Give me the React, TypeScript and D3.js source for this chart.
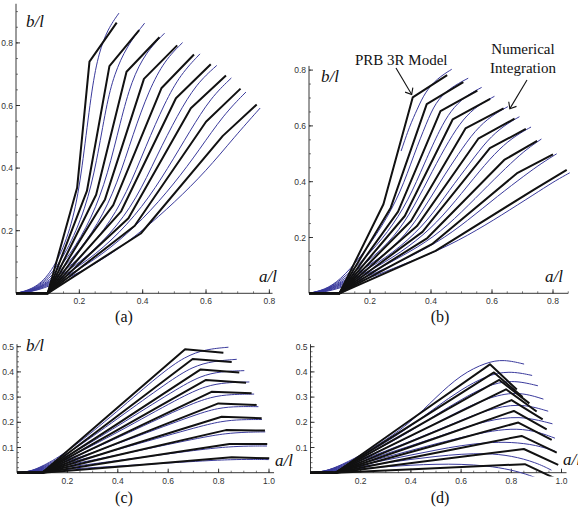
import * as d3 from "d3";

type Pt = [number, number];

// PRB 3R model (black polylines)
const prbA: Pt[][] = [
  [[0, 0], [0.1, 0], [0.193, 0.337], [0.232, 0.74], [0.318, 0.865]],
  [[0, 0], [0.1, 0], [0.224, 0.327], [0.295, 0.726], [0.389, 0.841]],
  [[0, 0], [0.1, 0], [0.253, 0.315], [0.349, 0.708], [0.453, 0.818]],
  [[0, 0], [0.1, 0], [0.281, 0.3], [0.404, 0.685], [0.509, 0.792]],
  [[0, 0], [0.1, 0], [0.307, 0.282], [0.459, 0.655], [0.562, 0.763]],
  [[0, 0], [0.1, 0], [0.332, 0.262], [0.505, 0.623], [0.615, 0.732]],
  [[0, 0], [0.1, 0], [0.355, 0.24], [0.552, 0.591], [0.663, 0.696]],
  [[0, 0], [0.1, 0], [0.375, 0.216], [0.6, 0.548], [0.709, 0.654]],
  [[0, 0], [0.1, 0], [0.394, 0.191], [0.653, 0.503], [0.76, 0.603]],
];
// numerical integration (blue curves), panel (a)
const numA: Pt[][] = [
  [[0, 0], [0.05, 0.012], [0.1, 0.05], [0.15, 0.14], [0.19, 0.27], [0.215, 0.45], [0.24, 0.66], [0.262, 0.77], [0.29, 0.845], [0.325, 0.895]],
  [[0, 0], [0.05, 0.011], [0.1, 0.045], [0.16, 0.13], [0.22, 0.27], [0.255, 0.42], [0.285, 0.6], [0.31, 0.7], [0.35, 0.79], [0.406, 0.863]],
  [[0, 0], [0.05, 0.01], [0.1, 0.04], [0.17, 0.12], [0.24, 0.24], [0.29, 0.38], [0.33, 0.55], [0.365, 0.68], [0.41, 0.77], [0.469, 0.831]],
  [[0, 0], [0.05, 0.009], [0.1, 0.035], [0.18, 0.11], [0.26, 0.22], [0.32, 0.35], [0.37, 0.51], [0.42, 0.65], [0.47, 0.745], [0.526, 0.801]],
  [[0, 0], [0.05, 0.008], [0.1, 0.032], [0.19, 0.1], [0.28, 0.2], [0.35, 0.32], [0.41, 0.47], [0.47, 0.61], [0.52, 0.7], [0.581, 0.765]],
  [[0, 0], [0.05, 0.007], [0.1, 0.03], [0.2, 0.095], [0.3, 0.19], [0.38, 0.3], [0.445, 0.44], [0.51, 0.57], [0.57, 0.67], [0.634, 0.728]],
  [[0, 0], [0.05, 0.006], [0.1, 0.027], [0.2, 0.085], [0.3, 0.165], [0.4, 0.275], [0.48, 0.4], [0.55, 0.52], [0.615, 0.625], [0.68, 0.688]],
  [[0, 0], [0.05, 0.005], [0.1, 0.024], [0.2, 0.075], [0.3, 0.145], [0.4, 0.235], [0.5, 0.35], [0.58, 0.46], [0.655, 0.57], [0.726, 0.643]],
  [[0, 0], [0.05, 0.005], [0.1, 0.02], [0.2, 0.065], [0.3, 0.125], [0.4, 0.2], [0.5, 0.29], [0.6, 0.39], [0.69, 0.5], [0.771, 0.592]],
];

const prbB: Pt[][] = [
  [[0, 0], [0.1, 0], [0.244, 0.319], [0.34, 0.702], [0.453, 0.782]],
  [[0, 0], [0.1, 0], [0.268, 0.307], [0.386, 0.678], [0.506, 0.757]],
  [[0, 0], [0.1, 0], [0.292, 0.293], [0.431, 0.653], [0.552, 0.726]],
  [[0, 0], [0.1, 0], [0.314, 0.277], [0.471, 0.623], [0.594, 0.697]],
  [[0, 0], [0.1, 0], [0.335, 0.26], [0.513, 0.591], [0.638, 0.663]],
  [[0, 0], [0.1, 0], [0.354, 0.241], [0.555, 0.554], [0.674, 0.626]],
  [[0, 0], [0.1, 0], [0.372, 0.22], [0.593, 0.52], [0.711, 0.589]],
  [[0, 0], [0.1, 0], [0.388, 0.198], [0.64, 0.478], [0.748, 0.546]],
  [[0, 0], [0.1, 0], [0.403, 0.176], [0.684, 0.432], [0.8, 0.498]],
  [[0, 0], [0.1, 0], [0.415, 0.152], [0.735, 0.37], [0.845, 0.442]],
];
const numB: Pt[][] = [
  [[0.302, 0.51], [0.33, 0.6], [0.355, 0.66], [0.38, 0.72], [0.42, 0.77], [0.468, 0.803]],
  [[0, 0], [0.05, 0.012], [0.1, 0.045], [0.17, 0.13], [0.24, 0.24], [0.3, 0.36], [0.345, 0.5], [0.385, 0.61], [0.415, 0.685], [0.46, 0.735], [0.522, 0.771]],
  [[0, 0], [0.05, 0.011], [0.1, 0.042], [0.18, 0.12], [0.26, 0.22], [0.325, 0.33], [0.38, 0.47], [0.43, 0.59], [0.465, 0.655], [0.51, 0.705], [0.566, 0.738]],
  [[0, 0], [0.05, 0.01], [0.1, 0.038], [0.19, 0.11], [0.28, 0.2], [0.345, 0.31], [0.405, 0.44], [0.46, 0.55], [0.505, 0.625], [0.555, 0.675], [0.608, 0.706]],
  [[0, 0], [0.05, 0.009], [0.1, 0.035], [0.2, 0.1], [0.3, 0.185], [0.37, 0.29], [0.43, 0.4], [0.49, 0.5], [0.545, 0.585], [0.6, 0.638], [0.652, 0.669]],
  [[0, 0], [0.05, 0.008], [0.1, 0.032], [0.2, 0.09], [0.3, 0.165], [0.39, 0.26], [0.46, 0.37], [0.53, 0.47], [0.585, 0.55], [0.64, 0.602], [0.69, 0.633]],
  [[0, 0], [0.05, 0.007], [0.1, 0.029], [0.2, 0.08], [0.3, 0.145], [0.4, 0.23], [0.48, 0.33], [0.56, 0.44], [0.625, 0.52], [0.68, 0.567], [0.728, 0.596]],
  [[0, 0], [0.05, 0.006], [0.1, 0.026], [0.2, 0.072], [0.3, 0.13], [0.41, 0.2], [0.5, 0.29], [0.59, 0.39], [0.665, 0.47], [0.715, 0.518], [0.762, 0.553]],
  [[0, 0], [0.05, 0.005], [0.1, 0.022], [0.2, 0.063], [0.3, 0.115], [0.42, 0.18], [0.52, 0.26], [0.62, 0.35], [0.71, 0.425], [0.765, 0.468], [0.812, 0.5]],
  [[0, 0], [0.05, 0.004], [0.1, 0.018], [0.2, 0.055], [0.3, 0.1], [0.43, 0.155], [0.55, 0.225], [0.66, 0.3], [0.76, 0.37], [0.81, 0.405], [0.855, 0.432]],
];

const prbC: Pt[][] = [
  [[0, 0], [0.1, 0], [0.365, 0.229], [0.667, 0.49], [0.819, 0.476]],
  [[0, 0], [0.1, 0], [0.379, 0.21], [0.697, 0.451], [0.852, 0.439]],
  [[0, 0], [0.1, 0], [0.394, 0.191], [0.729, 0.41], [0.882, 0.398]],
  [[0, 0], [0.1, 0], [0.403, 0.172], [0.75, 0.368], [0.909, 0.357]],
  [[0, 0], [0.1, 0], [0.414, 0.15], [0.772, 0.321], [0.931, 0.315]],
  [[0, 0], [0.1, 0], [0.426, 0.128], [0.799, 0.275], [0.951, 0.269]],
  [[0, 0], [0.1, 0], [0.432, 0.104], [0.812, 0.222], [0.971, 0.216]],
  [[0, 0], [0.1, 0], [0.44, 0.079], [0.829, 0.169], [0.984, 0.167]],
  [[0, 0], [0.1, 0], [0.447, 0.053], [0.843, 0.114], [0.993, 0.114]],
  [[0, 0], [0.1, 0], [0.451, 0.028], [0.852, 0.061], [1.001, 0.057]],
];
const numC: Pt[][] = [
  [[0, 0], [0.05, 0.004], [0.1, 0.025], [0.2, 0.08], [0.4, 0.245], [0.567, 0.39], [0.667, 0.462], [0.75, 0.49], [0.839, 0.498]],
  [[0, 0], [0.05, 0.004], [0.1, 0.023], [0.2, 0.072], [0.4, 0.215], [0.6, 0.36], [0.697, 0.422], [0.78, 0.443], [0.872, 0.45]],
  [[0, 0], [0.05, 0.004], [0.1, 0.021], [0.2, 0.063], [0.4, 0.185], [0.63, 0.33], [0.729, 0.385], [0.81, 0.402], [0.902, 0.405]],
  [[0, 0], [0.05, 0.003], [0.1, 0.019], [0.2, 0.056], [0.4, 0.16], [0.65, 0.3], [0.75, 0.345], [0.83, 0.358], [0.922, 0.36]],
  [[0, 0], [0.05, 0.003], [0.1, 0.017], [0.2, 0.05], [0.4, 0.138], [0.67, 0.265], [0.772, 0.302], [0.85, 0.311], [0.941, 0.312]],
  [[0, 0], [0.05, 0.003], [0.1, 0.015], [0.2, 0.044], [0.4, 0.115], [0.7, 0.228], [0.799, 0.258], [0.88, 0.263], [0.958, 0.262]],
  [[0, 0], [0.05, 0.002], [0.1, 0.013], [0.2, 0.037], [0.4, 0.092], [0.71, 0.18], [0.812, 0.205], [0.89, 0.211], [0.972, 0.211]],
  [[0, 0], [0.05, 0.002], [0.1, 0.011], [0.2, 0.03], [0.4, 0.07], [0.73, 0.14], [0.829, 0.156], [0.91, 0.161], [0.985, 0.162]],
  [[0, 0], [0.05, 0.002], [0.1, 0.009], [0.2, 0.022], [0.4, 0.048], [0.74, 0.094], [0.843, 0.103], [0.92, 0.106], [0.992, 0.106]],
  [[0, 0], [0.05, 0.001], [0.1, 0.006], [0.2, 0.014], [0.4, 0.026], [0.75, 0.048], [0.852, 0.052], [0.93, 0.053], [0.999, 0.052]],
];

const prbD: Pt[][] = [
  [[0, 0], [0.1, 0], [0.387, 0.201], [0.715, 0.43], [0.822, 0.33]],
  [[0, 0], [0.1, 0], [0.395, 0.186], [0.731, 0.398], [0.845, 0.3]],
  [[0, 0], [0.1, 0], [0.404, 0.172], [0.752, 0.368], [0.872, 0.275]],
  [[0, 0], [0.1, 0], [0.417, 0.155], [0.779, 0.331], [0.901, 0.243]],
  [[0, 0], [0.1, 0], [0.427, 0.134], [0.801, 0.288], [0.925, 0.212]],
  [[0, 0], [0.1, 0], [0.432, 0.114], [0.81, 0.245], [0.941, 0.172]],
  [[0, 0], [0.1, 0], [0.44, 0.093], [0.828, 0.199], [0.961, 0.13]],
  [[0, 0], [0.1, 0], [0.446, 0.068], [0.841, 0.146], [0.981, 0.08]],
  [[0, 0], [0.1, 0], [0.45, 0.044], [0.85, 0.094], [0.987, 0.031]],
  [[0, 0], [0.1, 0], [0.452, 0.016], [0.854, 0.034], [0.99, -0.03]],
];
const numD: Pt[][] = [
  [[0, 0], [0.05, 0.004], [0.1, 0.02], [0.2, 0.068], [0.3, 0.13], [0.4, 0.2], [0.5, 0.3], [0.6, 0.39], [0.7, 0.438], [0.77, 0.45], [0.851, 0.431]],
  [[0, 0], [0.05, 0.004], [0.1, 0.019], [0.2, 0.063], [0.3, 0.12], [0.4, 0.185], [0.5, 0.26], [0.6, 0.33], [0.7, 0.385], [0.79, 0.405], [0.883, 0.386]],
  [[0, 0], [0.05, 0.004], [0.1, 0.018], [0.2, 0.058], [0.3, 0.11], [0.4, 0.165], [0.5, 0.23], [0.6, 0.29], [0.7, 0.345], [0.8, 0.37], [0.906, 0.345]],
  [[0, 0], [0.05, 0.003], [0.1, 0.016], [0.2, 0.052], [0.3, 0.098], [0.4, 0.145], [0.5, 0.197], [0.6, 0.248], [0.7, 0.295], [0.82, 0.325], [0.928, 0.292]],
  [[0, 0], [0.05, 0.003], [0.1, 0.015], [0.2, 0.047], [0.3, 0.087], [0.4, 0.125], [0.5, 0.167], [0.6, 0.208], [0.7, 0.248], [0.83, 0.278], [0.947, 0.244]],
  [[0, 0], [0.05, 0.003], [0.1, 0.013], [0.2, 0.041], [0.3, 0.075], [0.4, 0.107], [0.5, 0.14], [0.6, 0.175], [0.7, 0.205], [0.83, 0.228], [0.964, 0.194]],
  [[0, 0], [0.05, 0.002], [0.1, 0.011], [0.2, 0.035], [0.3, 0.062], [0.4, 0.088], [0.5, 0.115], [0.6, 0.14], [0.7, 0.162], [0.8, 0.176], [0.89, 0.168], [0.974, 0.137]],
  [[0, 0], [0.05, 0.002], [0.1, 0.01], [0.2, 0.03], [0.3, 0.05], [0.4, 0.07], [0.5, 0.09], [0.6, 0.108], [0.7, 0.12], [0.8, 0.122], [0.9, 0.11], [0.975, 0.085]],
  [[0, 0], [0.05, 0.002], [0.1, 0.008], [0.2, 0.024], [0.3, 0.039], [0.4, 0.053], [0.5, 0.065], [0.6, 0.074], [0.7, 0.077], [0.8, 0.068], [0.9, 0.04], [0.96, 0.01]],
  [[0, 0], [0.05, 0.001], [0.1, 0.006], [0.2, 0.016], [0.3, 0.024], [0.4, 0.03], [0.5, 0.034], [0.6, 0.034], [0.7, 0.028], [0.8, 0.012], [0.88, -0.012], [0.92, -0.03]],
];

const ticksAB = [0.2, 0.4, 0.6, 0.8];
const ticksX_CD = [0.2, 0.4, 0.6, 0.8, 1.0];
const ticksY_CD = [0.1, 0.2, 0.3, 0.4, 0.5];

const BLUE = "#3a3a9c";
const SERIF = "'Liberation Serif', 'DejaVu Serif', serif";
const SANS = "'Liberation Sans', Arial, sans-serif";

const panels = [
  { id: "a", x0: 16, y0: 293.3, kx: 316.7, ky: 313, xEnd: 0.81, yEnd: 0.925, xT: ticksAB, yT: ticksAB, xm: 0.05, ym: 0.05,
    prb: prbA, num: numA, low: -0.03, bl: [26, 27] as Pt, al: [259, 282] as Pt, cap: [124, 322] as Pt, name: "(a)" },
  { id: "b", x0: 309, y0: 293.3, kx: 305, ky: 279, xEnd: 0.85, yEnd: 0.815, xT: ticksAB, yT: ticksAB, xm: 0.05, ym: 0.05,
    prb: prbB, num: numB, low: -0.03, bl: [321, 82] as Pt, al: [545, 282] as Pt, cap: [440, 322] as Pt, name: "(b)" },
  { id: "c", x0: 17, y0: 472.7, kx: 252, ky: 252, xEnd: 1.02, yEnd: 0.51, xT: ticksX_CD, yT: ticksY_CD, xm: 0.05, ym: 0.02,
    prb: prbC, num: numC, low: -0.03, bl: [26, 351] as Pt, al: [275, 466] as Pt, cap: [124, 503] as Pt, name: "(c)" },
  { id: "d", x0: 310.5, y0: 472.7, kx: 251, ky: 252, xEnd: 1.02, yEnd: 0.51, xT: ticksX_CD, yT: ticksY_CD, xm: 0.05, ym: 0.02,
    prb: prbD, num: numD, low: -0.015, bl: null, al: [563, 465] as Pt, cap: [440, 503] as Pt, name: "(d)" },
];

function Panel({ p }: { p: any }) {
  const x = d3.scaleLinear().domain([0, 1]).range([p.x0, p.x0 + p.kx]);
  const y = d3.scaleLinear().domain([0, 1]).range([p.y0, p.y0 - p.ky]);
  const poly = d3.line<Pt>().x((d) => x(d[0])).y((d) => y(d[1]));
  const smooth = d3.line<Pt>().x((d) => x(d[0])).y((d) => y(d[1])).curve(d3.curveBasis);
  const fmt = d3.format(".1f");
  const minorX = d3.range(1, Math.floor(p.xEnd / p.xm + 1e-6) + 1).map((i) => i * p.xm);
  const minorY = d3.range(1, Math.floor(p.yEnd / p.ym + 1e-6) + 1).map((i) => i * p.ym);
  const clipId = "clip-" + p.id;

  return (
    <g>
      <defs>
        <clipPath id={clipId}>
          <rect x={x(0) - 4} y={y(p.yEnd) - 12} width={x(p.xEnd) - x(0) + 14} height={y(p.low) - y(p.yEnd) + 12} />
        </clipPath>
      </defs>
      {/* axes */}
      <g stroke="#222" strokeWidth={0.9}>
        <line x1={x(0)} x2={x(p.xEnd)} y1={y(0)} y2={y(0)} />
        <line x1={x(0)} x2={x(0)} y1={y(0)} y2={y(p.yEnd)} />
        {minorX.map((v: number) => (
          <line key={"mx" + v} x1={x(v)} x2={x(v)} y1={y(0)} y2={y(0) - 2} strokeWidth={0.6} />
        ))}
        {minorY.map((v: number) => (
          <line key={"my" + v} x1={x(0)} x2={x(0) + 2} y1={y(v)} y2={y(v)} strokeWidth={0.6} />
        ))}
        {p.xT.map((v: number) => (
          <line key={"tx" + v} x1={x(v)} x2={x(v)} y1={y(0)} y2={y(0) - 4} />
        ))}
        {p.yT.map((v: number) => (
          <line key={"ty" + v} x1={x(0)} x2={x(0) + 4} y1={y(v)} y2={y(v)} />
        ))}
      </g>
      <g fontFamily={SANS} fontSize={8.5} fill="#333">
        {p.xT.map((v: number) => (
          <text key={"lx" + v} x={x(v)} y={y(0) + 11} textAnchor="middle">{fmt(v)}</text>
        ))}
        {p.yT.map((v: number) => (
          <text key={"ly" + v} x={x(0) - 3} y={y(v) + 3} textAnchor="end">{fmt(v)}</text>
        ))}
      </g>
      {/* curves */}
      <g clipPath={`url(#${clipId})`} fill="none">
        {p.num.map((c: Pt[], i: number) => (
          <path key={"n" + i} d={smooth(c) || ""} stroke={BLUE} strokeWidth={1} />
        ))}
        {p.prb.map((c: Pt[], i: number) => (
          <path key={"p" + i} d={poly(c) || ""} stroke="#111" strokeWidth={2} strokeLinejoin="round" />
        ))}
      </g>
      {/* axis titles and caption */}
      <g fontFamily={SERIF} fontStyle="italic" fontSize={17} fill="#111">
        {p.bl && <text x={p.bl[0]} y={p.bl[1]}>b/l</text>}
        <text x={p.al[0]} y={p.al[1]}>a/l</text>
      </g>
      <text x={p.cap[0]} y={p.cap[1]} fontFamily={SERIF} fontSize={16} textAnchor="middle" fill="#111">{p.name}</text>
    </g>
  );
}

function Arrow({ from, to }: { from: Pt; to: Pt }) {
  const a = Math.atan2(from[1] - to[1], from[0] - to[0]);
  const len = 7;
  const b1: Pt = [to[0] + len * Math.cos(a + 0.7), to[1] + len * Math.sin(a + 0.7)];
  const b2: Pt = [to[0] + len * Math.cos(a - 0.7), to[1] + len * Math.sin(a - 0.7)];
  return (
    <g stroke="#111" strokeWidth={1.1} fill="none">
      <line x1={from[0]} y1={from[1]} x2={to[0]} y2={to[1]} />
      <polyline points={`${b1[0]},${b1[1]} ${to[0]},${to[1]} ${b2[0]},${b2[1]}`} />
    </g>
  );
}

export default function App() {
  const pb = panels[1];
  const xb = d3.scaleLinear().domain([0, 1]).range([pb.x0, pb.x0 + pb.kx]);
  const yb = d3.scaleLinear().domain([0, 1]).range([pb.y0, pb.y0 - pb.ky]);
  const knee = prbB[0][3];
  const tip1: Pt = [xb(knee[0]) - 1, yb(knee[1]) - 3];
  const end5 = numB[4][numB[4].length - 1];
  const tip2: Pt = [xb(end5[0]) + 2, yb(end5[1]) + 2];
  return (
    <svg width={578} height={508} style={{ position: "absolute", left: 0, top: 0, background: "#fff" }}>
      {panels.map((p) => (
        <Panel key={p.id} p={p} />
      ))}
      <g fontFamily={SERIF} fontSize={15} fill="#111">
        <text x={355} y={65}>PRB 3R Model</text>
        <text x={523} y={54} textAnchor="middle">Numerical</text>
        <text x={523} y={73} textAnchor="middle">Integration</text>
      </g>
      <Arrow from={[396, 68]} to={tip1} />
      <Arrow from={[527, 80]} to={tip2} />
    </svg>
  );
}
